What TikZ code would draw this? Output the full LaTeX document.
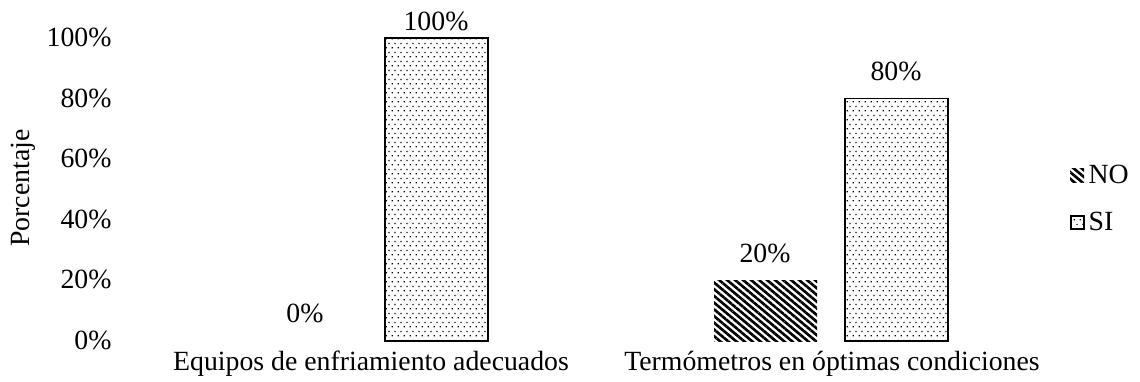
\documentclass[tikz,border=0pt]{standalone}
\usepackage{fontspec}
\setmainfont{Liberation Serif}
\usetikzlibrary{patterns,patterns.meta}
\pgfdeclarepatternformonly{sidots}{\pgfpointorigin}{\pgfpoint{2.1pt}{3.2pt}}{\pgfpoint{2.1pt}{3.2pt}}{
\pgfpathrectangle{\pgfpoint{0.2pt}{0.2pt}}{\pgfpoint{0.45pt}{0.45pt}}
\pgfpathrectangle{\pgfpoint{1.25pt}{1.8pt}}{\pgfpoint{0.45pt}{0.45pt}}
\pgfusepath{fill}}
\tikzset{sibar/.style={draw=black,line width=0.55pt,pattern=sidots},
nobar/.style={pattern={Lines[angle=-40,distance=1.85pt,line width=0.95pt]}},
lbl/.style={font=\fontsize{10}{12}\selectfont,inner sep=0pt}}
\begin{document}
\begin{tikzpicture}[x=0.36pt,y=-0.36pt]
\useasboundingbox(0,0)rectangle(1140,381);
\foreach \p in {0,20,...,100}
  \node[lbl,anchor=base east](t\p)at(112,{349.5-3.03*\p}){\p\%};
\node[lbl,rotate=90](ylab)at(23,188){Porcentaje};
\draw[sibar](385,341)rectangle(488,38);
\fill[nobar](714,341)rectangle(817,280);
\draw[sibar](845,341)rectangle(948,98.6);
\node[lbl,anchor=base](v1)at(305,322){0\%};
\node[lbl,anchor=base](v2)at(436,30){100\%};
\node[lbl,anchor=base](v3)at(765,262){20\%};
\node[lbl,anchor=base](v4)at(896,80){80\%};
\node[lbl,anchor=base](c1)at(371,370){Equipos de enfriamiento adecuados};
\node[lbl,anchor=base](c2)at(832,370){Termómetros en óptimas condiciones};
\fill[nobar](1070,168)rectangle(1084,182);
\node[lbl,anchor=base west](lno)at(1088,183){NO};
\draw[sibar](1071,216)rectangle(1084,229);
\node[lbl,anchor=base west](lsi)at(1088,230){SI};
\end{tikzpicture}
\end{document}
